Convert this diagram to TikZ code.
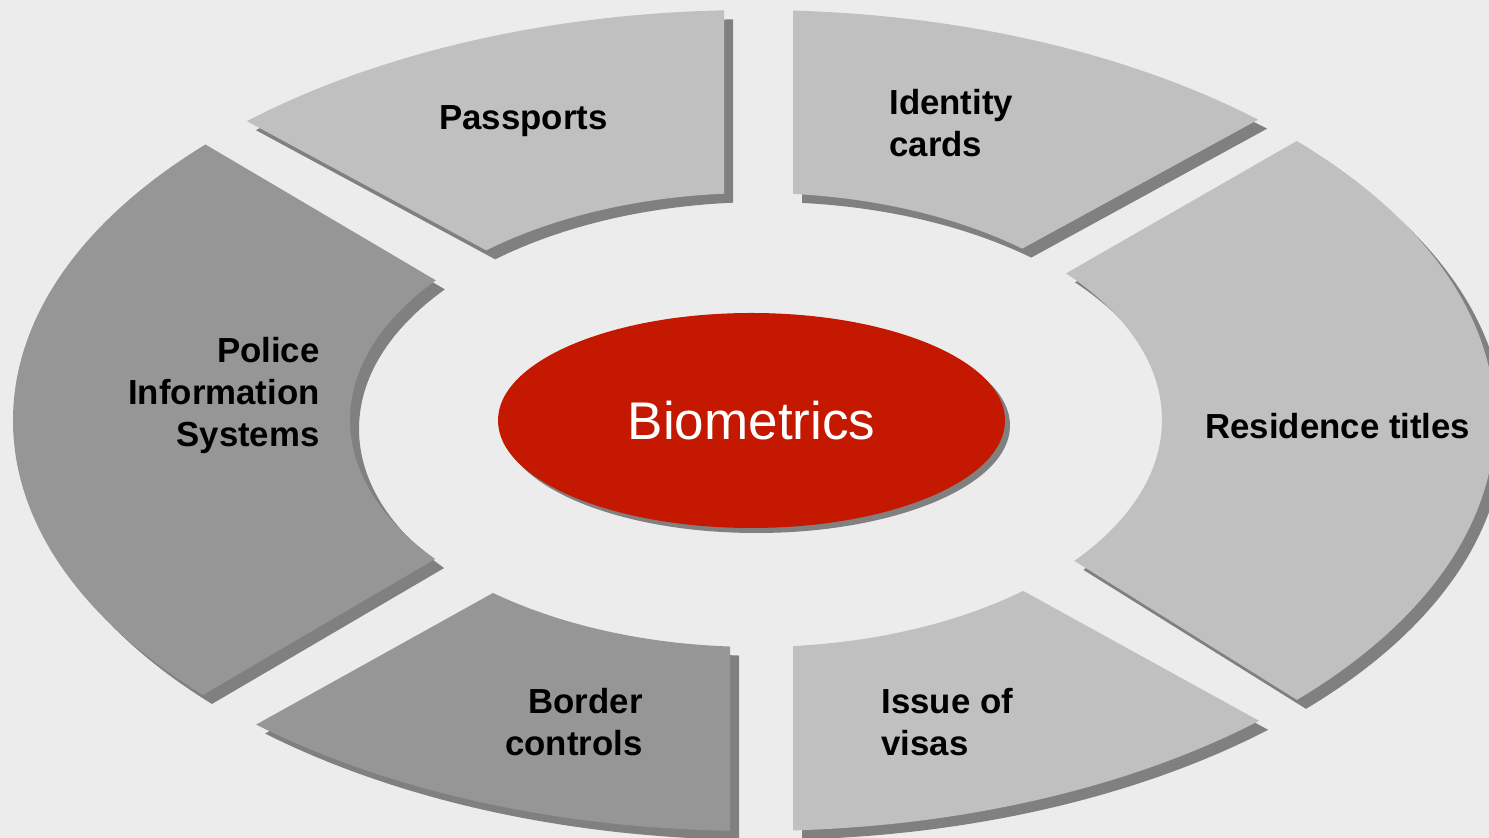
\documentclass[tikz,border=0pt]{standalone}
\usepackage{fontspec}
\setmainfont{Liberation Sans}
\usetikzlibrary{calc,shapes.geometric}
\definecolor{bgc}{RGB}{236,236,236}
\definecolor{lightseg}{RGB}{192,192,192}
\definecolor{darkseg}{RGB}{150,150,150}
\definecolor{shadowc}{RGB}{128,128,128}
\definecolor{bioRed}{RGB}{196,24,0}
\newcommand\ringfill[1]{\fill[#1,even odd rule] (754,420.5) ellipse [x radius=370.5pt, y radius=205.25pt] (756,420) ellipse [x radius=203pt, y radius=113.5pt];}
\newcommand\hpclip[3]{\clip ($(#1)!-8!(#2)$) -- ($(#1)!8!(#2)$) -- ($(#1)!8!(#2)+(#3)$) -- ($(#1)!-8!(#2)+(#3)$) -- cycle;}
\newcommand\drawseg[2]{\begin{scope}[shift={(9,9)}]#1\ringfill{shadowc}\end{scope}\begin{scope}#1\ringfill{#2}\end{scope}}
\newcommand\clipPass{\hpclip{241,118}{480,247}{0,-3000}\clip (-500,-500) rectangle (724,1400);}
\newcommand\clipIdent{\hpclip{1263,117}{1027,246}{0,-3000}\clip (793,-500) rectangle (2200,1400);}
\newcommand\clipPolice{\hpclip{208,146}{442,284}{0,3000}\hpclip{208,692}{442,555}{0,-3000}}
\newcommand\clipResid{\hpclip{1302,138}{1065,274}{0,3000}\hpclip{1302,703}{1065,555}{0,-3000}}
\newcommand\clipBorder{\hpclip{259,723}{493,593}{0,3000}\clip (-500,-500) rectangle (730,1400);}
\newcommand\clipIssue{\hpclip{1263,723}{1027,593}{0,3000}\clip (793,-500) rectangle (2200,1400);}
\begin{document}
\begin{tikzpicture}[x=0.5pt,y=-0.5pt,
  lab/.style={font=\fontsize{17.4}{21}\selectfont\bfseries, inner sep=0pt, text=black},
  bio/.style={ellipse, fill=bioRed, minimum width=253.5pt, minimum height=107.5pt, inner sep=0pt}]
\fill[bgc] (0,0) rectangle (1489,838);
\useasboundingbox (0,0) rectangle (1489,838);
\drawseg{\clipPass}{lightseg}
\drawseg{\clipIdent}{lightseg}
\drawseg{\clipPolice}{darkseg}
\drawseg{\clipResid}{lightseg}
\drawseg{\clipBorder}{darkseg}
\drawseg{\clipIssue}{lightseg}
\fill[shadowc] (756.5,425.5) ellipse [x radius=126.75pt, y radius=53.75pt];
\node[bio] (bio) at (751.5,420.5) {};
\node[font=\fontsize{26.5}{30}\selectfont, text=white, inner sep=0pt] (biotext) at (751.5,421) {Biometrics};
\node[lab, anchor=base] (pass) at (523.5,130) {Passports};
\node[lab, anchor=north west, align=left] (ident) at (889,88.6) {Identity\\cards};
\node[lab, anchor=north east, align=right] (police) at (320,336.6) {Police\\Information\\Systems};
\node[lab, anchor=base west] (resid) at (1205,439) {Residence titles};
\node[lab, anchor=north east, align=right] (border) at (643,687.6) {Border\\controls};
\node[lab, anchor=north west, align=left] (issue) at (881,687.6) {Issue of\\visas};
\end{tikzpicture}
\end{document}
